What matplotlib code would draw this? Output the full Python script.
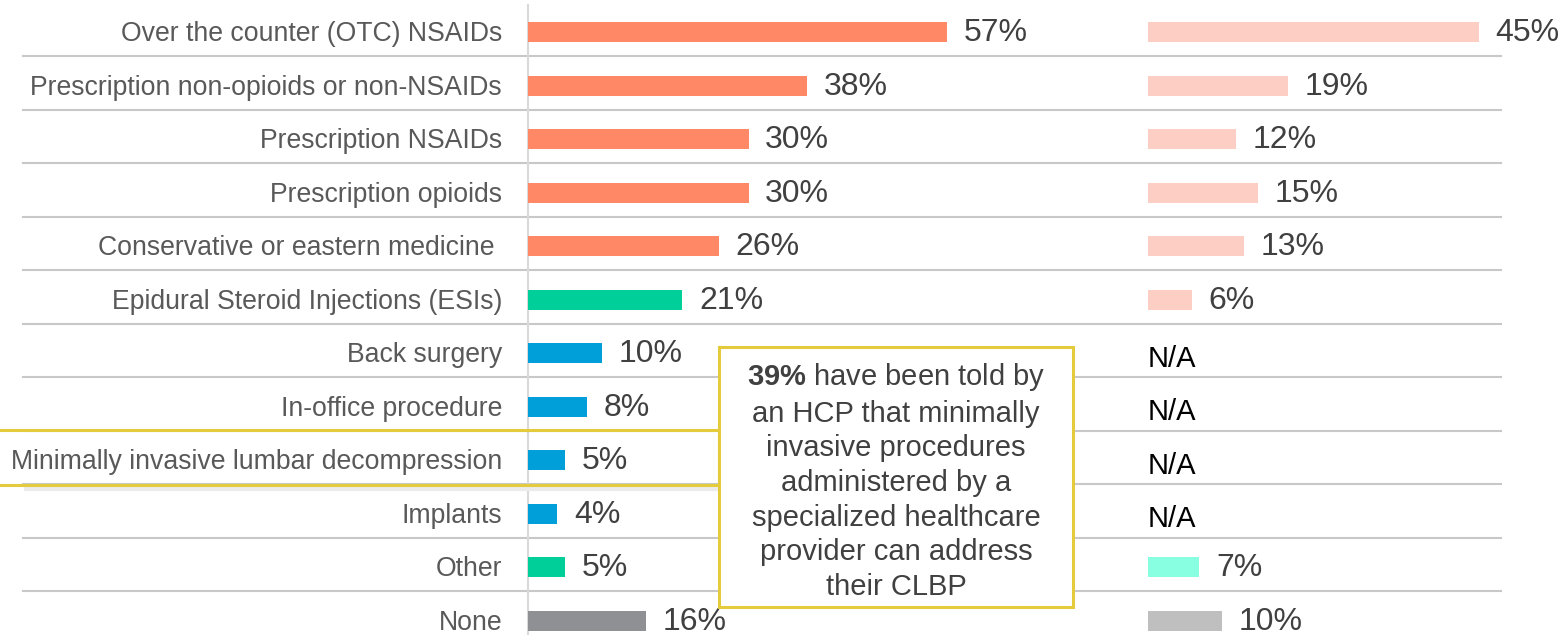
import numpy as np
import matplotlib
matplotlib.use("Agg")
import matplotlib.pyplot as plt
from matplotlib.patches import Rectangle

plt.rcParams['font.family'] = ['Liberation Sans', 'DejaVu Sans']
plt.rcParams['mathtext.fontset'] = 'custom'
plt.rcParams['mathtext.rm'] = 'Liberation Sans'
plt.rcParams['mathtext.bf'] = 'Liberation Sans:bold'

# data
categories = ["Over the counter (OTC) NSAIDs", "Prescription non-opioids or non-NSAIDs",
              "Prescription NSAIDs", "Prescription opioids", "Conservative or eastern medicine ",
              "Epidural Steroid Injections (ESIs)", "Back surgery", "In-office procedure",
              "Minimally invasive lumbar decompression", "Implants", "Other", "None"]
left_vals = [57, 38, 30, 30, 26, 21, 10, 8, 5, 4, 5, 16]
right_vals = [45, 19, 12, 15, 13, 6, None, None, None, None, 7, 10]
left_colors = ["#FF8866"] * 5 + ["#00CF9A"] + ["#009FDA"] * 4 + ["#00CF9A", "#8F9094"]
right_colors = ["#FDCFC4"] * 6 + [None] * 4 + ["#88FFE0", "#BFBFBF"]
callout = ("$\\mathbf{39\\%}$ have been told by\nan HCP that minimally\ninvasive procedures\n"
           "administered by a\nspecialized healthcare\nprovider can address\ntheir CLBP")

# layout (pixels)
W, H = 1562, 635
px_per_pct = 7.35
x0_px = 528          # left column origin
x_right_px = 1148    # right column origin
row0_px, row_h = 32, 53.5

def px2x(p):
    return (p - x0_px) / px_per_pct

def px2y(p):
    return (p - row0_px) / row_h

right_off = px2x(x_right_px)

fig = plt.figure(figsize=(W / 100, H / 100), dpi=100)
ax = fig.add_axes([0, 0, 1, 1])
ax.set_xlim(px2x(0), px2x(W))
ax.set_ylim(px2y(H), px2y(0))
ax.axis('off')

n = len(categories)
y = np.arange(n)
bh = 20 / row_h

# separators and axis line
for i in range(n - 1):
    ax.plot([px2x(23), px2x(1501)], [i + 0.455, i + 0.455], color="#C8C8C8", lw=1.5, zorder=1)
ax.plot([0, 0], [px2y(5), px2y(H)], color="#D9D9D9", lw=1.5, zorder=1)

# left column
ax.barh(y, left_vals, height=bh, color=left_colors, zorder=3)
for yi, v in zip(y, left_vals):
    ax.annotate(f"{v}%", (v, yi), xytext=(12, -1), textcoords='offset points',
                va='center', ha='left', fontsize=23, color="#404040", zorder=4)

# right column
for yi, v, c in zip(y, right_vals, right_colors):
    if v is None:
        ax.annotate("N/A", (right_off, yi), xytext=(0, -4), textcoords='offset points',
                    va='center', ha='left', fontsize=21, color="#000000", zorder=4)
        continue
    ax.barh(yi, v, left=right_off, height=bh, color=c, zorder=3)
    ax.annotate(f"{v}%", (right_off + v, yi), xytext=(12, -1), textcoords='offset points',
                va='center', ha='left', fontsize=23, color="#404040", zorder=4)

# category labels
for yi, lab in zip(y, categories):
    ax.annotate(lab, (px2x(502), yi), xytext=(0, -1.5), textcoords='offset points',
                ha='right', va='center', fontsize=19.2, color="#595959", zorder=4)

# highlight around the MILD row
ax.plot([px2x(26), px2x(719)], [px2y(489), px2y(489)], color="#EBEBEB", lw=3, zorder=2)
ax.add_patch(Rectangle((px2x(-5), px2y(485)), px2x(719) - px2x(-5), px2y(430) - px2y(485),
                       fill=False, edgecolor="#E3CB3C", lw=2.2, zorder=5))

# callout box
ax.add_patch(Rectangle((px2x(719), px2y(607)), px2x(1073) - px2x(719), px2y(347) - px2y(607),
                       facecolor="white", edgecolor="#E3CB3C", lw=2.2, zorder=6))
ax.text(px2x(896), px2y(481), callout, ha='center', va='center', fontsize=21,
        color="#404040", linespacing=1.3, zorder=7)

fig.savefig("out.png", dpi=100)
